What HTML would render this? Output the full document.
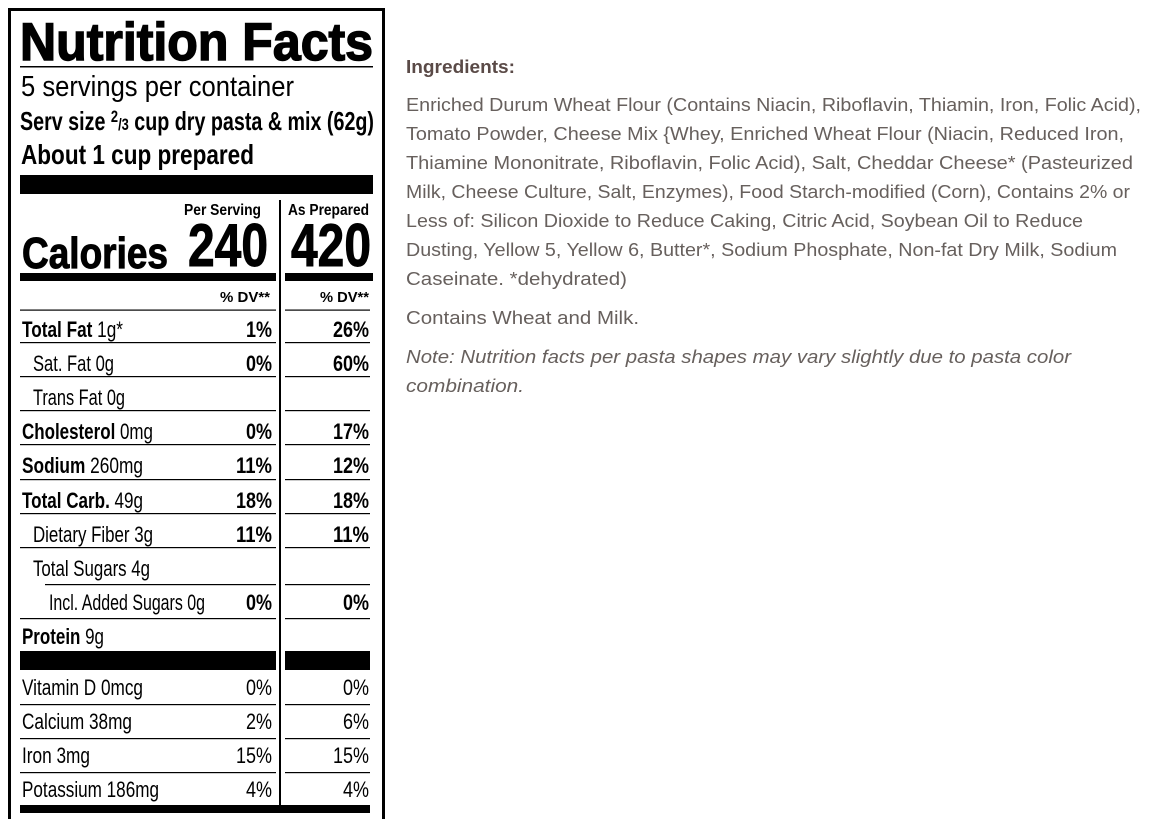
<!DOCTYPE html>
<html><head><meta charset="utf-8"><style>
html,body{margin:0;padding:0;background:#fff;}
svg{display:block;}
.l{font-family:"Liberation Sans",Arial,sans-serif;fill:#000;}
.b{font-weight:bold;}
.r{font-family:"Liberation Sans",Arial,sans-serif;fill:#67605d;font-size:18px;}
</style></head><body>
<svg width="1159" height="819" viewBox="0 0 1159 819" xmlns="http://www.w3.org/2000/svg">
<rect x="0" y="0" width="1159" height="819" fill="#fff"/>
<rect x="9.5" y="9.5" width="374" height="830" fill="none" stroke="#000" stroke-width="3"/>
<g class="l">
<text x="20" y="60" class="b" font-size="53" stroke="#000" stroke-width="1.5" textLength="353" lengthAdjust="spacingAndGlyphs">Nutrition Facts</text>
<rect x="20" y="66" width="353" height="1.5" fill="#000"/>
<text x="21" y="96" font-size="29" textLength="273" lengthAdjust="spacingAndGlyphs">5 servings per container</text>
<text x="20" y="130" class="b" font-size="26" textLength="354" lengthAdjust="spacingAndGlyphs">Serv size <tspan font-size="17" dy="-8">2</tspan><tspan font-size="17" dy="8">/3</tspan> cup dry pasta &amp; mix (62g)</text>
<text x="21" y="164" class="b" font-size="28" textLength="233" lengthAdjust="spacingAndGlyphs">About 1 cup prepared</text>
<rect x="20" y="175" width="353" height="19" fill="#000"/>
<text x="184" y="215" class="b" font-size="16" textLength="77" lengthAdjust="spacingAndGlyphs">Per Serving</text>
<text x="288" y="215" class="b" font-size="16" textLength="81" lengthAdjust="spacingAndGlyphs">As Prepared</text>
<rect x="279" y="200" width="2" height="605" fill="#000"/>
<text x="22" y="268" class="b" font-size="44" stroke="#000" stroke-width="1" textLength="146" lengthAdjust="spacingAndGlyphs">Calories</text>
<text x="188" y="266" class="b" font-size="60" stroke="#000" stroke-width="1" textLength="80" lengthAdjust="spacingAndGlyphs">240</text>
<text x="291" y="266" class="b" font-size="60" stroke="#000" stroke-width="1" textLength="80" lengthAdjust="spacingAndGlyphs">420</text>
<rect x="20" y="273" width="256" height="8" fill="#000"/>
<rect x="285" y="273" width="88" height="8" fill="#000"/>
<text x="220" y="302" class="b" font-size="15" textLength="50" lengthAdjust="spacingAndGlyphs">% DV**</text>
<text x="320" y="302" class="b" font-size="15" textLength="49" lengthAdjust="spacingAndGlyphs">% DV**</text>
<g fill="#000">
<rect x="20" y="309.5" width="256" height="1.2"/><rect x="285" y="309.5" width="85" height="1.2"/>
<rect x="20" y="342" width="256" height="1.2"/><rect x="285" y="342" width="85" height="1.2"/>
<rect x="20" y="376" width="256" height="1.2"/><rect x="285" y="376" width="85" height="1.2"/>
<rect x="20" y="410" width="256" height="1.2"/><rect x="285" y="410" width="85" height="1.2"/>
<rect x="20" y="444" width="256" height="1.2"/><rect x="285" y="444" width="85" height="1.2"/>
<rect x="20" y="479" width="256" height="1.2"/><rect x="285" y="479" width="85" height="1.2"/>
<rect x="20" y="513" width="256" height="1.2"/><rect x="285" y="513" width="85" height="1.2"/>
<rect x="20" y="547" width="256" height="1.2"/><rect x="285" y="547" width="85" height="1.2"/>
<rect x="45" y="584" width="231" height="1.2"/><rect x="285" y="584" width="85" height="1.2"/>
<rect x="20" y="618" width="256" height="1.2"/><rect x="285" y="618" width="85" height="1.2"/>
<rect x="20" y="651" width="256" height="19"/><rect x="285" y="651" width="85" height="19"/>
<rect x="20" y="704" width="256" height="1.2"/><rect x="285" y="704" width="85" height="1.2"/>
<rect x="20" y="738" width="256" height="1.2"/><rect x="285" y="738" width="85" height="1.2"/>
<rect x="20" y="772" width="256" height="1.2"/><rect x="285" y="772" width="85" height="1.2"/>
<rect x="20" y="805" width="350" height="8"/>
</g>
<g font-size="22">
<text x="22" y="337" textLength="101" lengthAdjust="spacingAndGlyphs"><tspan class="b">Total Fat</tspan> 1g*</text>
<text x="33" y="371" textLength="81" lengthAdjust="spacingAndGlyphs">Sat. Fat 0g</text>
<text x="33" y="405" textLength="92" lengthAdjust="spacingAndGlyphs">Trans Fat 0g</text>
<text x="22" y="439" textLength="131" lengthAdjust="spacingAndGlyphs"><tspan class="b">Cholesterol</tspan> 0mg</text>
<text x="22" y="473" textLength="121" lengthAdjust="spacingAndGlyphs"><tspan class="b">Sodium</tspan> 260mg</text>
<text x="22" y="508" textLength="121" lengthAdjust="spacingAndGlyphs"><tspan class="b">Total Carb.</tspan> 49g</text>
<text x="33" y="542" textLength="120" lengthAdjust="spacingAndGlyphs">Dietary Fiber 3g</text>
<text x="33" y="576" textLength="117" lengthAdjust="spacingAndGlyphs">Total Sugars 4g</text>
<text x="49" y="610" textLength="156" lengthAdjust="spacingAndGlyphs">Incl. Added Sugars 0g</text>
<text x="22" y="644" textLength="82" lengthAdjust="spacingAndGlyphs"><tspan class="b">Protein</tspan> 9g</text>
<text x="22" y="695" textLength="121" lengthAdjust="spacingAndGlyphs">Vitamin D 0mcg</text>
<text x="22" y="729" textLength="110" lengthAdjust="spacingAndGlyphs">Calcium 38mg</text>
<text x="22" y="763" textLength="68" lengthAdjust="spacingAndGlyphs">Iron 3mg</text>
<text x="22" y="797" textLength="137" lengthAdjust="spacingAndGlyphs">Potassium 186mg</text>
</g>
<g font-size="22" text-anchor="end">
<text x="272" y="337" class="b" textLength="26" lengthAdjust="spacingAndGlyphs">1%</text>
<text x="369" y="337" class="b" textLength="36" lengthAdjust="spacingAndGlyphs">26%</text>
<text x="272" y="371" class="b" textLength="26" lengthAdjust="spacingAndGlyphs">0%</text>
<text x="369" y="371" class="b" textLength="36" lengthAdjust="spacingAndGlyphs">60%</text>
<text x="272" y="439" class="b" textLength="26" lengthAdjust="spacingAndGlyphs">0%</text>
<text x="369" y="439" class="b" textLength="36" lengthAdjust="spacingAndGlyphs">17%</text>
<text x="272" y="473" class="b" textLength="36" lengthAdjust="spacingAndGlyphs">11%</text>
<text x="369" y="473" class="b" textLength="36" lengthAdjust="spacingAndGlyphs">12%</text>
<text x="272" y="508" class="b" textLength="36" lengthAdjust="spacingAndGlyphs">18%</text>
<text x="369" y="508" class="b" textLength="36" lengthAdjust="spacingAndGlyphs">18%</text>
<text x="272" y="542" class="b" textLength="36" lengthAdjust="spacingAndGlyphs">11%</text>
<text x="369" y="542" class="b" textLength="36" lengthAdjust="spacingAndGlyphs">11%</text>
<text x="272" y="610" class="b" textLength="26" lengthAdjust="spacingAndGlyphs">0%</text>
<text x="369" y="610" class="b" textLength="26" lengthAdjust="spacingAndGlyphs">0%</text>
<text x="272" y="695" textLength="26" lengthAdjust="spacingAndGlyphs">0%</text>
<text x="369" y="695" textLength="26" lengthAdjust="spacingAndGlyphs">0%</text>
<text x="272" y="729" textLength="26" lengthAdjust="spacingAndGlyphs">2%</text>
<text x="369" y="729" textLength="26" lengthAdjust="spacingAndGlyphs">6%</text>
<text x="272" y="763" textLength="36" lengthAdjust="spacingAndGlyphs">15%</text>
<text x="369" y="763" textLength="36" lengthAdjust="spacingAndGlyphs">15%</text>
<text x="272" y="797" textLength="26" lengthAdjust="spacingAndGlyphs">4%</text>
<text x="369" y="797" textLength="26" lengthAdjust="spacingAndGlyphs">4%</text>
</g>
</g>
<text x="406" y="73" class="r" font-weight="bold" style="fill:#5a4a47" textLength="109" lengthAdjust="spacingAndGlyphs">Ingredients:</text>
<text x="406" y="111" class="r" textLength="735" lengthAdjust="spacingAndGlyphs">Enriched Durum Wheat Flour (Contains Niacin, Riboflavin, Thiamin, Iron, Folic Acid),</text>
<text x="406" y="140" class="r" textLength="718" lengthAdjust="spacingAndGlyphs">Tomato Powder, Cheese Mix {Whey, Enriched Wheat Flour (Niacin, Reduced Iron,</text>
<text x="406" y="169" class="r" textLength="727" lengthAdjust="spacingAndGlyphs">Thiamine Mononitrate, Riboflavin, Folic Acid), Salt, Cheddar Cheese* (Pasteurized</text>
<text x="406" y="198" class="r" textLength="724" lengthAdjust="spacingAndGlyphs">Milk, Cheese Culture, Salt, Enzymes), Food Starch-modified (Corn), Contains 2% or</text>
<text x="406" y="227" class="r" textLength="677" lengthAdjust="spacingAndGlyphs">Less of: Silicon Dioxide to Reduce Caking, Citric Acid, Soybean Oil to Reduce</text>
<text x="406" y="256" class="r" textLength="711" lengthAdjust="spacingAndGlyphs">Dusting, Yellow 5, Yellow 6, Butter*, Sodium Phosphate, Non-fat Dry Milk, Sodium</text>
<text x="406" y="285" class="r" textLength="221" lengthAdjust="spacingAndGlyphs">Caseinate. *dehydrated)</text>
<text x="406" y="324" class="r" textLength="233" lengthAdjust="spacingAndGlyphs">Contains Wheat and Milk.</text>
<text x="406" y="363" class="r" font-style="italic" textLength="665" lengthAdjust="spacingAndGlyphs">Note: Nutrition facts per pasta shapes may vary slightly due to pasta color</text>
<text x="406" y="392" class="r" font-style="italic" textLength="118" lengthAdjust="spacingAndGlyphs">combination.</text>
</svg>
</body></html>
